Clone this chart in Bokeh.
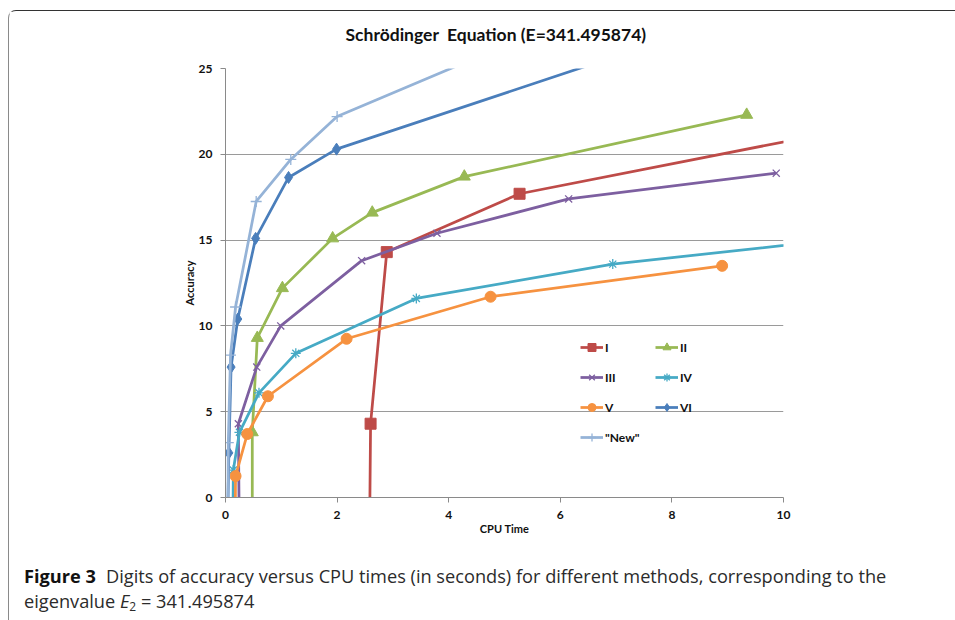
from bokeh.plotting import figure
from bokeh.layouts import column
from bokeh.models import Legend, LegendItem, FixedTicker, Range1d, Div, Title
from bokeh.embed import file_html
from bokeh.resources import INLINE

# ---------------- data ----------------
series_names = ["I", "II", "III", "IV", "V", "VI", "\"New\""]

cpu_I = [2.58, 2.60, 2.89, 5.27, 12.0]
acc_I = [-3.0, 4.3, 14.3, 17.7, 22.0]

cpu_II = [0.48, 0.48, 0.57, 1.02, 1.92, 2.63, 4.28, 9.34]
acc_II = [-3.0, 3.8, 9.3, 12.2, 15.1, 16.6, 18.7, 22.3]

cpu_III = [0.25, 0.23, 0.56, 0.99, 2.44, 3.79, 6.15, 9.87]
acc_III = [-3.0, 4.3, 7.6, 10.0, 13.8, 15.4, 17.4, 18.9]

cpu_IV = [0.13, 0.14, 0.25, 0.60, 1.26, 3.42, 6.94, 12.0]
acc_IV = [-3.0, 1.6, 3.8, 6.1, 8.4, 11.6, 13.6, 15.4]

cpu_V = [0.17, 0.18, 0.39, 0.76, 2.17, 4.75, 8.90]
acc_V = [-3.0, 1.25, 3.7, 5.9, 9.25, 11.7, 13.5]

cpu_VI = [0.03, 0.06, 0.10, 0.22, 0.54, 1.13, 1.99, 8.0]
acc_VI = [-3.0, 2.6, 7.6, 10.4, 15.1, 18.65, 20.3, 26.8]

cpu_New = [0.04, 0.05, 0.09, 0.18, 0.55, 1.17, 2.00, 6.0]
acc_New = [-3.0, 3.2, 8.3, 11.1, 17.25, 19.7, 22.2, 27.7]

x_ticks = [0, 2, 4, 6, 8, 10]
y_ticks = [0, 5, 10, 15, 20, 25]

title_text = "Schr\u00f6dinger\u00a0 Equation (E=341.495874)"
x_label = "CPU Time"
y_label = "Accuracy"
caption_bold = "Figure 3"
caption_line1 = "Digits of accuracy versus CPU times (in seconds) for different methods, corresponding to the"
caption_line2a = "eigenvalue"
caption_E = "E"
caption_sub = "2"
caption_line2b = "= 341.495874"

# ---------------- styles ----------------
colors = ["#BE4B48", "#98B954", "#7D5FA0", "#46AAC5", "#F69240", "#4A7EBB", "#95B3D7"]
markers = ["square", "triangle", "x", "asterisk", "circle", "diamond", "cross"]
msizes = [11, 12, 10, 10, 11, 12, 11]

all_x = [cpu_I, cpu_II, cpu_III, cpu_IV, cpu_V, cpu_VI, cpu_New]
all_y = [acc_I, acc_II, acc_III, acc_IV, acc_V, acc_VI, acc_New]

W_MAIN, H_MAIN = 944, 529
H_CAP = 76

p = figure(width=W_MAIN, height=H_MAIN, output_backend="svg", toolbar_location=None,
           x_range=Range1d(0, 10), y_range=Range1d(0, 25),
           min_border_left=216, min_border_right=170,
           min_border_top=57, min_border_bottom=43)
p.outline_line_color = None
p.background_fill_color = "white"
p.border_fill_color = "white"
p.title = None

# spacer (closest to the frame), then the chart title above it
p.add_layout(Title(text=" ", text_font_size="1px", standoff=21), "above")
p.add_layout(Title(text=title_text, align="left", offset=120, standoff=0,
                   vertical_align="bottom",
                   text_font="Lato", text_font_style="bold",
                   text_font_size="17.5px", text_color="#111111"), "above")

p.xgrid.grid_line_color = None
p.ygrid.grid_line_color = "#9a9a9a"
p.ygrid.grid_line_width = 1

for ax in (p.xaxis[0], p.yaxis[0]):
    ax.axis_line_color = "#8a8a8a"
    ax.major_tick_line_color = "#8a8a8a"
    ax.major_tick_in = 0
    ax.major_tick_out = 5
    ax.minor_tick_line_color = None
    ax.major_label_text_font = "Lato"
    ax.major_label_text_font_style = "bold"
    ax.major_label_text_font_size = "12px"
    ax.major_label_text_color = "#111111"
    ax.axis_label_text_font = "Lato"
    ax.axis_label_text_font_style = "bold"
    ax.axis_label_text_font_size = "11px"
    ax.axis_label_text_color = "#111111"

p.xaxis[0].ticker = FixedTicker(ticks=x_ticks)
p.yaxis[0].ticker = FixedTicker(ticks=y_ticks)
p.xaxis[0].axis_label = x_label
p.yaxis[0].axis_label = y_label
p.xaxis[0].major_label_standoff = 8
p.xaxis[0].axis_label_standoff = 0
p.yaxis[0].major_label_standoff = 8
p.yaxis[0].axis_label_standoff = 0

items = []
for name, xs, ys, c, m, s in zip(series_names, all_x, all_y, colors, markers, msizes):
    ln = p.line(xs, ys, line_color=c, line_width=2.75)
    if m in ("x", "asterisk", "cross"):
        sc = p.scatter(xs, ys, marker=m, size=s, line_color=c, line_width=1.3)
    else:
        sc = p.scatter(xs, ys, marker=m, size=s, fill_color=c, line_color=c)
    items.append(LegendItem(label=name, renderers=[ln, sc]))

legend = Legend(items=items, orientation="horizontal", ncols=2,
                location=(355, 50), padding=0, margin=0, spacing=10,
                glyph_width=23, glyph_height=20, label_height=20, label_width=40,
                label_standoff=2, border_line_color=None,
                background_fill_alpha=0,
                label_text_font="Lato", label_text_font_style="bold",
                label_text_font_size="12px", label_text_color="#111111")
p.add_layout(legend)

# ---------------- caption ----------------
caption_html = (
    '<div style="padding:19px 0 0 10px; white-space:nowrap;">'
    '<div><span style="display:inline-block; width:82px; font-weight:bold; color:#111111;">'
    + caption_bold + '</span>' + caption_line1 + '</div>'
    '<div>' + caption_line2a + ' <i>' + caption_E + '</i>'
    '<span style="font-size:12px; position:relative; top:3px;">' + caption_sub + '</span>'
    ' ' + caption_line2b + '</div></div>'
)
cap = Div(text=caption_html, width=W_MAIN, height=H_CAP,
          styles={"font-family": "'Open Sans', sans-serif", "font-size": "18.2px",
                  "line-height": "25px", "color": "#2b2b2b",
                  "background-color": "white"})

layout = column(p, cap, margin=(10, 0, 0, 8),
                styles={"border-top": "1px solid #333333",
                        "border-left": "1px solid #8a8a8a",
                        "border-top-left-radius": "8px"})

open("out.html", "w").write(file_html(layout, INLINE))
